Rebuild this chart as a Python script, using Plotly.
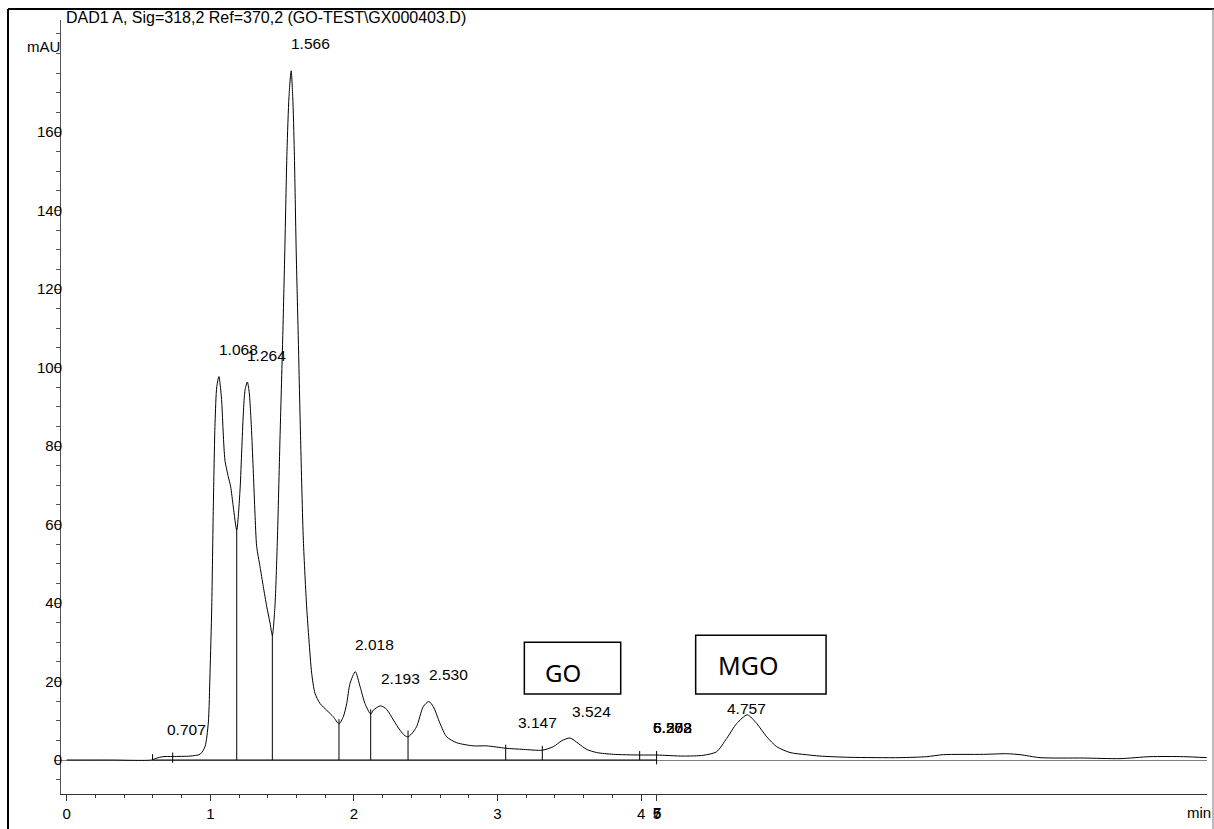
import plotly.graph_objects as go

# ---------------- data ----------------
rt_min = [0.00, 0.30, 0.59, 0.62, 0.67, 0.74, 0.86, 0.93, 0.963, 0.986, 0.998, 1.010, 1.021,
          1.033, 1.045, 1.060, 1.072, 1.080, 1.090, 1.102, 1.125, 1.142, 1.160, 1.184,
          1.207, 1.219, 1.230, 1.242, 1.258, 1.270, 1.280, 1.288, 1.300, 1.311, 1.323,
          1.346, 1.369, 1.393, 1.416, 1.432, 1.450, 1.467, 1.485, 1.504, 1.519, 1.534,
          1.548, 1.563, 1.574, 1.585, 1.598, 1.613, 1.629, 1.648, 1.671, 1.687, 1.706,
          1.729, 1.764, 1.810, 1.857, 1.896, 1.926, 1.950, 1.973, 2.010, 2.043, 2.077,
          2.117, 2.135, 2.185, 2.228, 2.275, 2.321, 2.355, 2.377, 2.400, 2.437, 2.483,
          2.522, 2.553, 2.600, 2.646, 2.716, 2.832, 2.925, 3.057, 3.180, 3.312, 3.389,
          3.447, 3.505, 3.563, 3.621, 3.691, 3.806, 3.990, 4.108, 4.294, 4.433, 4.526,
          4.596, 4.666, 4.740, 4.805, 4.875, 4.944, 5.037, 5.150, 5.246, 5.455, 5.803,
          5.989, 6.105, 6.383, 6.546, 6.639, 6.778, 7.080, 7.335, 7.544, 7.776, 7.939]
signal_mau = [0.0, 0.0, 0.0, 0.4, 0.85, 0.9, 1.0, 1.5, 3.4, 9.4, 22.0, 39.0, 64.5,
              85.8, 95.1, 97.7, 94.5, 91.0, 83.3, 76.4, 72.2, 69.6, 64.5, 58.6,
              68.8, 79.0, 88.3, 94.3, 96.3, 94.0, 89.0, 83.3, 73.0, 62.9, 54.4,
              49.3, 44.2, 39.1, 34.9, 31.8, 39.0, 56.0, 81.5, 107.0, 130.0, 155.0,
              169.0, 175.6, 169.0, 155.0, 130.0, 107.0, 81.5, 56.0, 39.0, 30.6, 22.1,
              17.0, 14.4, 12.7, 11.0, 9.2, 11.0, 14.4, 19.5, 22.5, 18.7, 14.4,
              11.7, 12.7, 13.8, 12.9, 10.2, 7.6, 6.2, 5.9, 6.6, 8.5, 13.6,
              14.9, 13.6, 9.3, 5.9, 4.4, 3.6, 3.6, 3.0, 2.7, 2.5, 3.4,
              4.9, 5.6, 4.2, 2.7, 1.9, 1.45, 1.27, 1.27, 1.0, 1.2, 2.1,
              5.5, 9.3, 11.5, 9.3, 5.9, 3.4, 1.9, 1.35, 1.0, 0.68, 0.6,
              0.85, 1.36, 1.44, 1.6, 1.36, 0.6, 0.5, 0.35, 0.85, 0.85, 0.6]

baseline_rt = [0.598, 4.108]
baseline_mau = [0.0, 0.0]

event_rt = [0.598, 0.738, 1.184, 1.432, 1.896, 2.117, 2.377, 3.057, 3.312, 3.990, 4.108]
event_top = [1.5, 1.9, 59.0, 32.2, 10.4, 12.9, 7.5, 3.9, 3.6, 2.3, 2.3]
event_bottom = [0.0, -0.7, 0.0, 0.0, 0.0, 0.0, 0.0, 0.0, 0.0, 0.0, -1.1]

peak_label = ["0.707", "1.068", "1.264", "1.566", "2.018", "2.193", "2.530", "3.147",
              "3.524", "5.272", "6.268", "6.503", "4.757"]
peak_rt = [0.707, 1.068, 1.264, 1.566, 2.018, 2.193, 2.530, 3.147,
           3.524, 4.09, 4.09, 4.09, 4.757]
peak_height = [0.9, 97.7, 96.3, 175.6, 22.5, 13.8, 14.9, 2.8,
               5.6, 1.3, 1.3, 1.3, 11.5]

x_tick_vals = [0, 1, 2, 3, 4, 4.11]
x_tick_text = ["0", "1", "2", "3", "4", "5"]
x_extra_tick_text = ["6", "7"]
y_tick_vals = [0, 20, 40, 60, 80, 100, 120, 140, 160]
y_tick_text = ["0", "20", "40", "60", "80", "100", "120", "140", "160"]

title_text = "DAD1 A, Sig=318,2 Ref=370,2 (GO-TEST\\GX000403.D)"
y_unit = "mAU"
x_unit = "min"
box_labels = ["GO", "MGO"]

# ---------------- layout geometry ----------------
W, H = 1214, 829
ML, MR, MT, MB = 61, 7, 20, 35
PW, PH = W - ML - MR, H - MT - MB


def px_x(px):
    return (px - ML) / PW


def px_y(py):
    return (H - MB - py) / PH


FONT = "Liberation Sans, Arial, sans-serif"
BOXFONT = "Noto Sans, Open Sans, sans-serif"

fig = go.Figure()

# chromatogram trace
fig.add_trace(go.Scatter(x=rt_min, y=signal_mau, mode="lines",
                         line=dict(color="black", width=1, shape="spline", smoothing=0.7),
                         hoverinfo="skip", showlegend=False))

# integration baseline
fig.add_trace(go.Scatter(x=baseline_rt, y=baseline_mau, mode="lines",
                         line=dict(color="black", width=1),
                         hoverinfo="skip", showlegend=False))

# peak start / end / drop lines
ex, ey = [], []
for t, top, bot in zip(event_rt, event_top, event_bottom):
    ex += [t, t, None]
    ey += [bot, top, None]
fig.add_trace(go.Scatter(x=ex, y=ey, mode="lines",
                         line=dict(color="black", width=1),
                         hoverinfo="skip", showlegend=False))

# invisible trace on the label axis so it gets drawn
fig.add_trace(go.Scatter(x=[0], y=[0], yaxis="y2", mode="markers",
                         marker=dict(opacity=0), hoverinfo="skip", showlegend=False))

annotations = []
# peak labels
for txt, t, h in zip(peak_label, peak_rt, peak_height):
    xs, ys = -3, 27
    if txt == "4.757":
        xs, ys = -25, 6
    annotations.append(dict(x=t, y=h, xref="x", yref="y", text=txt, showarrow=False,
                            xanchor="left", yanchor="middle", xshift=xs, yshift=ys,
                            font=dict(family=FONT, size=15.5, color="black")))

# overlapping x tick labels
for txt in x_extra_tick_text:
    annotations.append(dict(x=x_tick_vals[-1], y=px_y(812), xref="x", yref="paper",
                            text=txt, showarrow=False, xanchor="center", yanchor="middle",
                            font=dict(family=FONT, size=15, color="black")))

# title, units
annotations.append(dict(x=px_x(266), y=px_y(18), xref="paper", yref="paper",
                        text=title_text, showarrow=False, xanchor="center", yanchor="middle",
                        font=dict(family=FONT, size=16, color="black")))
annotations.append(dict(x=px_x(62), y=px_y(46), xref="paper", yref="paper",
                        text=y_unit, showarrow=False, xanchor="right", yanchor="middle",
                        font=dict(family=FONT, size=15, color="black")))
annotations.append(dict(x=px_x(1213), y=px_y(812), xref="paper", yref="paper",
                        text=x_unit, showarrow=False, xanchor="right", yanchor="middle",
                        font=dict(family=FONT, size=15, color="black")))

# GO / MGO boxes text
annotations.append(dict(x=3.458, y=22.2, xref="x", yref="y", text=box_labels[0],
                        showarrow=False, xanchor="center", yanchor="middle",
                        font=dict(family=BOXFONT, size=24, color="black")))
annotations.append(dict(x=4.745, y=24.2, xref="x", yref="y", text=box_labels[1],
                        showarrow=False, xanchor="center", yanchor="middle",
                        font=dict(family=BOXFONT, size=25, color="black")))

shapes = [
    dict(type="rect", xref="x", yref="y", x0=3.187, x1=3.858, y0=16.8, y1=30.0,
         line=dict(color="black", width=1.5)),
    dict(type="rect", xref="x", yref="y", x0=4.380, x1=5.288, y0=16.8, y1=31.8,
         line=dict(color="black", width=1.5)),
    # outer frame
    dict(type="line", xref="paper", yref="paper", x0=px_x(8), x1=px_x(1214),
         y0=px_y(9), y1=px_y(9), line=dict(color="black", width=2)),
    dict(type="line", xref="paper", yref="paper", x0=px_x(8), x1=px_x(8),
         y0=px_y(9), y1=px_y(829), line=dict(color="black", width=2)),
    dict(type="line", xref="paper", yref="paper", x0=px_x(1213), x1=px_x(1213),
         y0=px_y(9), y1=px_y(829), line=dict(color="#777777", width=1)),
]

x_minor = [i / 5 for i in range(1, 20) if i % 5]
y_range = [(760 - 794) / 3.925, (760 - 20) / 3.925]

fig.update_layout(
    width=W, height=H,
    margin=dict(l=ML, r=MR, t=MT, b=MB, pad=0),
    paper_bgcolor="white", plot_bgcolor="white",
    showlegend=False,
    annotations=annotations,
    shapes=shapes,
    xaxis=dict(range=[(61 - 66.7) / 143.6, (1207 - 66.7) / 143.6],
               showline=True, linecolor="#333333", linewidth=1,
               showgrid=False, zeroline=False,
               tickmode="array", tickvals=x_tick_vals, ticktext=x_tick_text,
               ticks="outside", ticklen=6, tickcolor="#333333", tickwidth=1,
               tickfont=dict(family=FONT, size=15, color="black"),
               minor=dict(tickmode="array", tickvals=x_minor, ticks="outside",
                          ticklen=3, tickcolor="#333333", showgrid=False),
               fixedrange=True),
    yaxis=dict(range=y_range,
               showline=True, linecolor="#555555", linewidth=1,
               showgrid=False, zeroline=True, zerolinecolor="#808080", zerolinewidth=1,
               tickmode="array", tickvals=y_tick_vals, showticklabels=False,
               ticks="outside", ticklen=6, tickcolor="#555555", tickwidth=1,
               minor=dict(dtick=5, tick0=0, ticks="outside", ticklen=4,
                          tickcolor="#555555", showgrid=False),
               fixedrange=True),
    yaxis2=dict(range=y_range, overlaying="y", anchor="free", side="left",
                position=px_x(62), showline=False, showgrid=False, zeroline=False,
                tickmode="array", tickvals=y_tick_vals, ticktext=y_tick_text,
                ticks="", tickfont=dict(family=FONT, size=15, color="black"),
                fixedrange=True),
)

fig.write_html("out.html", config={"displayModeBar": False},
               post_script="document.body.style.margin='0';document.body.style.overflow='hidden';")
